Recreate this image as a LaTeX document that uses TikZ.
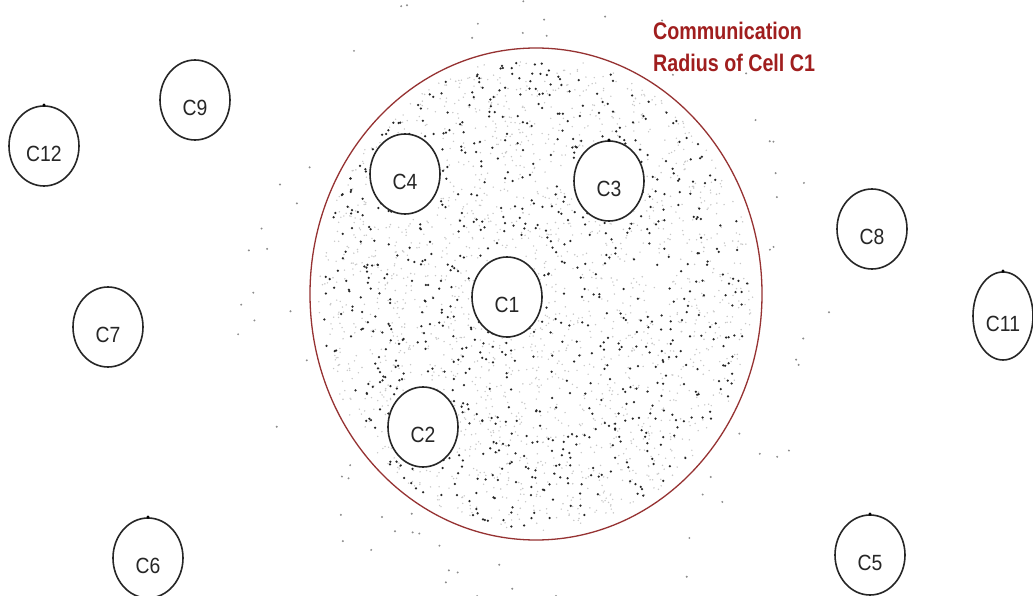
\documentclass[tikz,border=0pt]{standalone}
\usepackage{fontspec}
\setmainfont{Liberation Sans}
\usetikzlibrary{shapes.geometric}
\definecolor{radred}{RGB}{150,50,50}
\definecolor{txtred}{RGB}{160,30,30}
\begin{document}
\begin{tikzpicture}[x=1pt,y=-1pt,
  cell/.style={ellipse, draw=black!85, line width=1.6pt, fill=white,
    minimum width=70pt, minimum height=80pt, inner sep=0pt},
  lab/.style={font=\fontsize{22}{24}\selectfont, text=black!85, inner sep=0pt},
  tick/.style={fill=black, circle, inner sep=0pt, minimum size=3.5pt},
  note/.style={font=\bfseries\fontsize{24}{32}\selectfont, text=txtred, align=left, inner sep=0pt}
]
\useasboundingbox (0,0) rectangle (1033,596);
\fill[white] (0,0) rectangle (1033,596);
\pgfmathsetseed{7}
% faint speckle inside the radius
\foreach \i in {1,...,2000}{
  \pgfmathsetmacro\a{360*rnd}
  \pgfmathsetmacro\r{sqrt(rnd)*0.97}
  \fill[black!22] ({536+224*\r*cos(\a)},{294+244*\r*sin(\a)}) circle (0.8pt);
}
% nodes (dots) inside the radius
\foreach \i in {1,...,850}{
  \pgfmathsetmacro\a{360*rnd}
  \pgfmathsetmacro\r{sqrt(rnd)*0.96}
  \fill[black!85] ({536+224*\r*cos(\a)},{294+244*\r*sin(\a)}) circle (1.25pt);
}
% sparse dots outside the radius
\foreach \i in {1,...,70}{
  \pgfmathsetmacro\a{360*rnd}
  \pgfmathsetmacro\r{1.05+0.3*rnd}
  \fill[black!45] ({536+224*\r*cos(\a)},{294+244*\r*sin(\a)}) circle (1.1pt);
}
% communication radius
\draw[radred, line width=1.3pt] (536,294) ellipse [x radius=226pt, y radius=246pt];
\node[note, anchor=north west] (note) at (653,22)
  {\scalebox{0.82}[1]{Communication}\\\scalebox{0.82}[1]{Radius of Cell C1}};
% cells
\node[cell] (c1) at (507,297) {};
\node[cell] (c2) at (423,427) {};
\node[cell] (c3) at (609,181) {};
\node[cell] (c4) at (405,174) {};
\node[cell] (c5) at (870,555) {};
\node[cell] (c6) at (148,558) {};
\node[cell] (c7) at (108,327) {};
\node[cell] (c8) at (872,229) {};
\node[cell] (c9) at (195,100) {};
\node[cell, minimum width=60pt, minimum height=88pt] (c11) at (1003,316) {};
\node[cell] (c12) at (44,146) {};
\foreach \c/\t in {c1/C1,c2/C2,c3/C3,c4/C4,c5/C5,c6/C6,c7/C7,c8/C8,c9/C9,c11/C11,c12/C12}{
  \node[lab] (l\c) at ([yshift=-8pt]\c.center) {\scalebox{0.88}[1]{\t}};
}
\foreach \c in {c3,c5,c6,c11,c12}{
  \node[tick] (t\c) at (\c.north) {};
}
\end{tikzpicture}
\end{document}
